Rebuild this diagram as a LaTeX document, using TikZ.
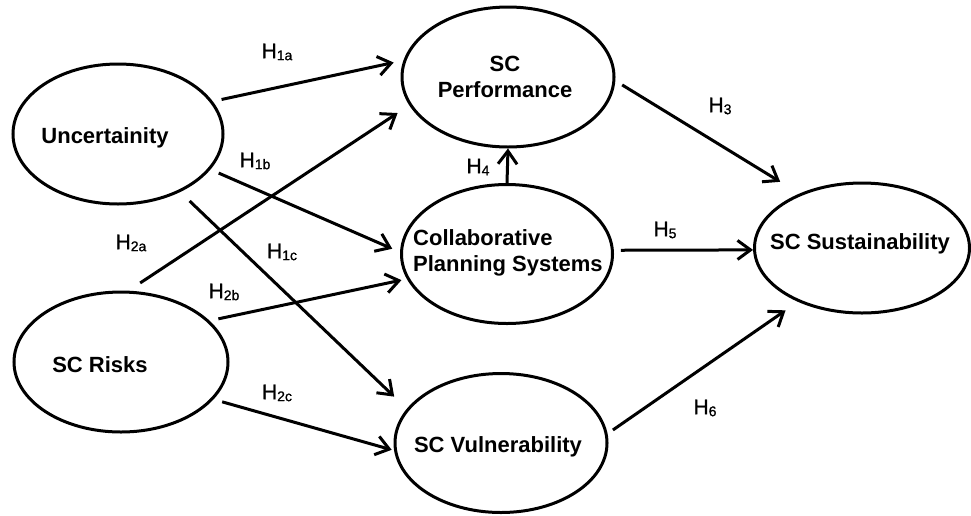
\documentclass[tikz,border=0pt]{standalone}
\usepackage{fontspec}
\setmainfont{Liberation Sans}
\newfontfamily\labfont{Liberation Sans}[FakeBold=1]
\usetikzlibrary{shapes.geometric,arrows.meta}
\newcommand{\hsub}[1]{\raisebox{-2pt}{\fontsize{14}{14}\selectfont #1}}
\begin{document}
\begin{tikzpicture}[x=1pt,y=-1pt,
  latent/.style={draw, ellipse, line width=3pt, inner sep=0pt},
  txt/.style={font=\fontsize{22}{26}\selectfont\bfseries, inner sep=0pt},
  hyp/.style={font=\labfont\fontsize{21}{21}\selectfont, inner sep=0pt},
  hpath/.style={line width=3pt, -{Straight Barb[length=13pt,width=19pt]}},
]
\useasboundingbox (0,0) rectangle (971,515);
% latent variables
\node[latent, minimum width=210pt, minimum height=140pt] (unc)  at (118,134) {};
\node[latent, minimum width=214pt, minimum height=140pt] (risk) at (121,362) {};
\node[latent, minimum width=212pt, minimum height=140pt] (perf) at (508,77) {};
\node[latent, minimum width=211pt, minimum height=139pt] (coll) at (507,254) {};
\node[latent, minimum width=212pt, minimum height=139pt] (vul)  at (501,443) {};
\node[latent, minimum width=215pt, minimum height=130pt] (sus)  at (862,248) {};
% texts
\node[txt, anchor=base] (tunc) at (105,143) {Uncertainity};
\node[txt, anchor=base] (trisk) at (100,372) {SC Risks};
\node[txt, align=center] (tperf) at (505,77) {SC\\Performance};
\node[txt, align=left, anchor=west] (tcoll) at (413,252.5) {Collaborative\\Planning Systems};
\node[txt, anchor=base] (tvul) at (498,452) {SC Vulnerability};
\node[txt, anchor=base] (tsus) at (860,249) {SC Sustainability};
% paths
\draw[hpath, shorten <=9pt, shorten >=10pt] (unc.19) -- (perf.171);
\draw[hpath, shorten <=14pt, shorten >=14pt] (risk.84) -- (perf.196);
\draw[hpath, shorten <=9pt, shorten >=8.5pt] (unc.-21) -- (coll.179);
\draw[hpath, shorten <=13pt, shorten >=17.5pt] (unc.-43) -- (vul.160);
\draw[hpath, shorten <=9pt, shorten >=5.5pt] (risk.25) -- (coll.194);
\draw[hpath, shorten <=9pt, shorten >=2.5pt] (risk.-22.5) -- (vul.184);
\draw[hpath, shorten <=8pt, shorten >=22.5pt] (perf.-2.5) -- (sus.139);
\draw[hpath] (coll.north) -- (perf.south);
\draw[hpath, shorten <=7pt] (coll.2) -- (sus.181);
\draw[hpath, shorten <=6.5pt, shorten >=15pt] (vul.5) -- (sus.220);
% hypothesis labels
\node[hyp] (l1a) at (277,52) {H\hsub{1a}};
\node[hyp] (l1b) at (255,161) {H\hsub{1b}};
\node[hyp] (l1c) at (282,252) {H\hsub{1c}};
\node[hyp] (l2a) at (131,243) {H\hsub{2a}};
\node[hyp] (l2b) at (224,292) {H\hsub{2b}};
\node[hyp] (l2c) at (277,393) {H\hsub{2c}};
\node[hyp] (l3) at (720,106) {H\hsub{3}};
\node[hyp] (l4) at (478,167) {H\hsub{4}};
\node[hyp] (l5) at (665,230) {H\hsub{5}};
\node[hyp] (l6) at (705,408) {H\hsub{6}};
\end{tikzpicture}
\end{document}
